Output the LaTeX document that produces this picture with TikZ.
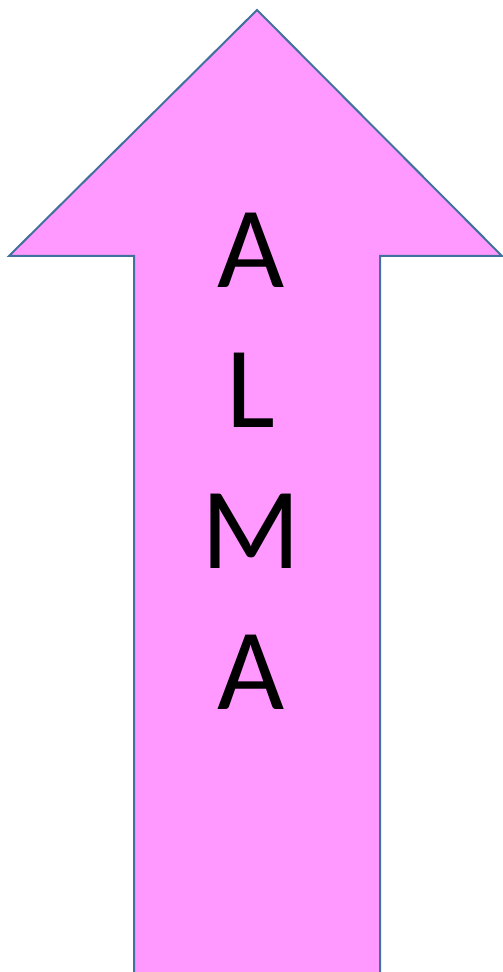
\documentclass[tikz,border=0pt]{standalone}
\usepackage{fontspec}
\setmainfont{Carlito}
\usepackage{xcolor}
\usepackage{tikz}
\definecolor{arrowfill}{HTML}{FF99FF}
\definecolor{arrowline}{HTML}{41719C}
\begin{document}
\begin{tikzpicture}[x=1pt, y=1pt]
  \tikzstyle{bigarrow}=[fill=arrowfill, draw=arrowline, line width=2pt, line join=miter]
  \tikzstyle{letter}=[anchor=base, inner sep=0pt, font=\fontsize{116}{140}\selectfont]
  \useasboundingbox (0,0) rectangle (503,972);
  \draw[bigarrow] (134,-10) -- (134,716) -- (9,716) -- (257,962) -- (502,716) -- (380,716) -- (380,-10) -- cycle;
  \node[letter] (a1) at (251,684) {A};
  \node[letter] (l) at (251,544) {L};
  \node[letter] (m) at (251,403) {M};
  \node[letter] (a2) at (251,262) {A};
\end{tikzpicture}
\end{document}
